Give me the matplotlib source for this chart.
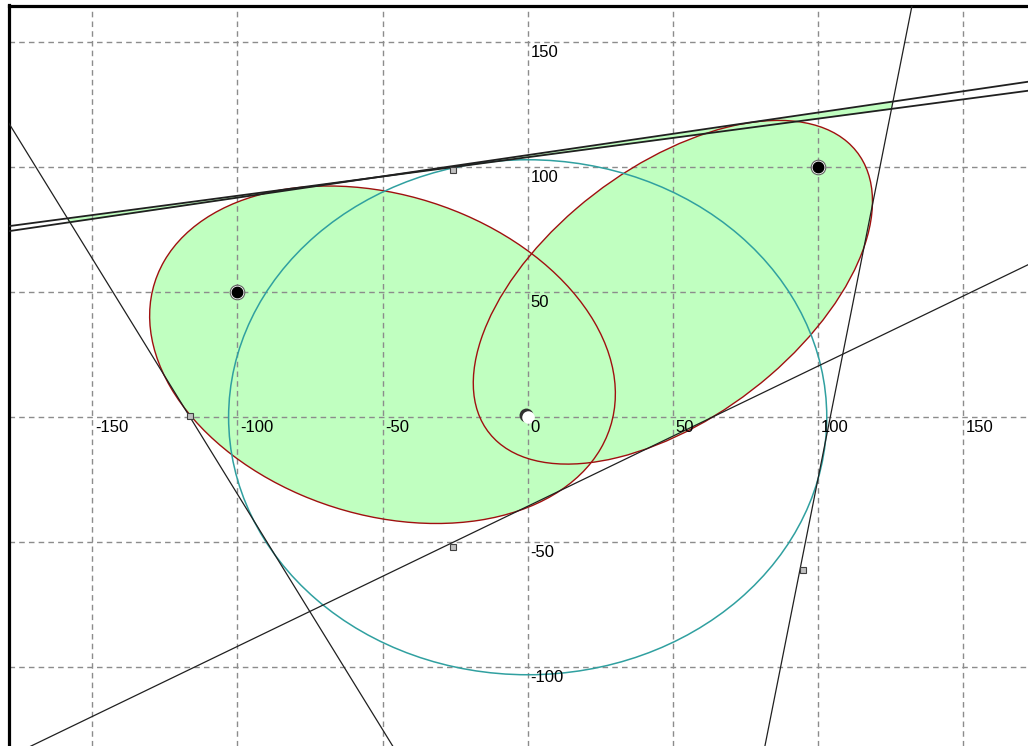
import numpy as np
import matplotlib
matplotlib.use("Agg")
import matplotlib.pyplot as plt
import matplotlib.patches as patches

# --- data (data units) ---
origin = (0.0, 0.0)
foci = [(-100.0, 50.0), (100.0, 100.0)]
majorSums = [168.0, 170.0]          # |P-O| + |P-F| for each oval
circleR = 103.0

# tangent lines, two points each
lines = {
	"topA": [(-178.3, 76.5), (172.3, 130.6)],
	"topB": [(-178.3, 74.5), (172.3, 134.2)],
	"left": [(-178.3, 116.9), (-46.7, -131.1)],
	"lower": [(-170.3, -131.1), (172.3, 61.0)],
	"steep": [(132.4, 164.9), (81.7, -131.5)],
}

# little right-angle squares
squares = [(-25.7, 98.9), (-116.2, 0.6), (-25.6, -51.8), (94.7, -61.1)]

xTicks = [-150, -100, -50, 0, 50, 100, 150]
yTicks = [-100, -50, 50, 100, 150]
gridX = [-150, -100, -50, 0, 50, 100, 150]
gridY = [-100, -50, 0, 50, 100, 150]

xLim = (-178.8, 172.3)
yLim = (-131.5, 164.7)

FILL = '#c0ffc0'
EDGE = '#a01010'
TEAL = '#30a0a0'
LINE = '#202020'
FONT = ['Liberation Sans Narrow', 'Liberation Sans', 'DejaVu Sans']


def ovalPatch(f1, f2, s, **kw):
	cx, cy = (f1[0]+f2[0])/2, (f1[1]+f2[1])/2
	c = np.hypot(f2[0]-f1[0], f2[1]-f1[1])/2
	a = s/2
	b = np.sqrt(a*a - c*c)
	ang = np.degrees(np.arctan2(f2[1]-f1[1], f2[0]-f1[0]))
	return patches.Ellipse((cx, cy), 2*a, 2*b, angle=ang, **kw)


def extend(p, q, t0=-1.0, t1=2.0):
	p = np.array(p); q = np.array(q)
	t = np.array([t0, t1])
	pts = p[None, :] + t[:, None]*(q-p)[None, :]
	return pts[:, 0], pts[:, 1]


def lineFn(p, q):
	m = (q[1]-p[1])/(q[0]-p[0])
	return lambda x: p[1] + m*(np.asarray(x)-p[0])


def crossX(l1, l2):
	# intersection x of two lines given as point pairs
	(x1, y1), (x2, y2) = l1
	(x3, y3), (x4, y4) = l2
	d = (x1-x2)*(y3-y4) - (y1-y2)*(x3-x4)
	a = x1*y2 - y1*x2
	b = x3*y4 - y3*x4
	return (a*(x3-x4) - (x1-x2)*b)/d


fig = plt.figure(figsize=(10.28, 7.46), dpi=100)
ax = fig.add_axes([8.5/1028, 0, 1019.5/1028, 740.5/746])
ax.set_xlim(*xLim)
ax.set_ylim(*yLim)

# green ovals (fill first, edges later)
for f, s in zip(foci, majorSums):
	ax.add_patch(ovalPatch(origin, f, s, facecolor=FILL, edgecolor='none', zorder=1))

# fill leaking between the double tangent line
xa = crossX(lines["topA"], lines["left"])
xb = crossX(lines["topA"], lines["steep"])
xs = np.linspace(xa, xb, 200)
ax.fill_between(xs, lineFn(*lines["topA"])(xs), lineFn(*lines["topB"])(xs),
	color=FILL, lw=0, zorder=1)

# dashed grid
for gx in gridX:
	ax.axvline(gx, color='#8c8c8c', lw=1.0, ls=(0, (4, 3)), zorder=2)
for gy in gridY:
	ax.axhline(gy, color='#8c8c8c', lw=1.0, ls=(0, (4, 3)), zorder=2)

for f, s in zip(foci, majorSums):
	ax.add_patch(ovalPatch(origin, f, s, facecolor='none', edgecolor=EDGE, lw=1.0, zorder=3))

ax.add_patch(patches.Ellipse(origin, 2*circleR, 2*circleR, facecolor='none',
	edgecolor=TEAL, lw=1.1, zorder=3))

for name, (p, q) in lines.items():
	lx, ly = extend(p, q)
	ax.plot(lx, ly, color=LINE, lw=1.3 if name.startswith("top") else 0.9, zorder=4)

sx, sy = zip(*squares)
ax.plot(sx, sy, ls='none', marker='s', ms=5, mfc='#c0c0c0', mec='#404040', mew=0.8, zorder=5)

# focus points
fx, fy = zip(*foci)
ax.plot(fx, fy, ls='none', marker='o', ms=10.5, mfc='white', mec='#606060', mew=0.8, zorder=6)
ax.plot(fx, fy, ls='none', marker='o', ms=7.5, mfc='black', mec='black', zorder=7)

# origin point with shadow
ax.annotate('', xy=origin, xytext=(0, 0), textcoords='offset pixels')
ax.plot([origin[0]-0.7], [origin[1]+0.8], marker='o', ms=10, mfc='#303030', mec='none', zorder=6)
ax.plot([origin[0]], [origin[1]], marker='o', ms=9, mfc='white', mec='none', zorder=7)

# axis labels sitting on the grid
for v in xTicks:
	ax.annotate(str(v), (v, 0), xytext=(3, -3), textcoords='offset pixels',
		ha='left', va='top', fontsize=12, family=FONT, color='black', zorder=8)
for v in yTicks:
	ax.annotate(str(v), (0, v), xytext=(3, -3), textcoords='offset pixels',
		ha='left', va='top', fontsize=12, family=FONT, color='black', zorder=8)

ax.set_xticks([])
ax.set_yticks([])
ax.spines['right'].set_visible(False)
ax.spines['bottom'].set_visible(False)
ax.spines['left'].set_linewidth(2.3)
ax.spines['top'].set_linewidth(2.3)

fig.savefig('out.png', dpi=100)
